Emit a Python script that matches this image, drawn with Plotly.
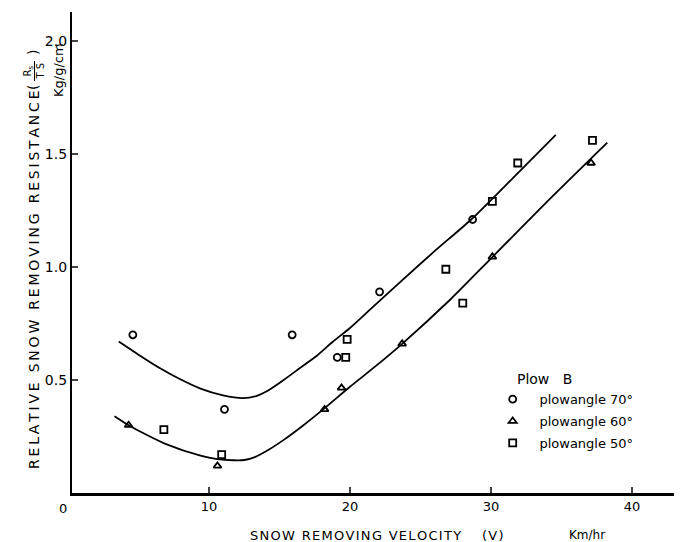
import plotly.graph_objects as go

# ---- data ----
x_ticks = [10, 20, 30, 40]
y_ticks = [0.5, 1.0, 1.5, 2.0]
y_tick_labels = ["0.5", "1.0", "1.5", "2.0"]

# plowangle 70 deg (circles)
a70_v = [4.6, 11.1, 15.9, 19.1, 22.1, 28.7]
a70_r = [0.70, 0.37, 0.70, 0.60, 0.89, 1.21]
# plowangle 60 deg (triangles)
a60_v = [4.3, 10.6, 18.2, 19.4, 23.7, 30.1, 37.1]
a60_r = [0.30, 0.12, 0.37, 0.465, 0.66, 1.045, 1.46]
# plowangle 50 deg (squares)
a50_v = [6.8, 10.9, 19.8, 19.7, 26.8, 28.0, 30.1, 31.9, 37.2]
a50_r = [0.28, 0.17, 0.68, 0.60, 0.99, 0.84, 1.29, 1.46, 1.56]

# fitted curves
upper_v = [3.6, 5.0, 6.5, 8.0, 9.4, 11.0, 12.4, 13.4, 14.1, 15.3, 16.5, 17.6, 18.8, 20.0, 21.4, 23.5, 26.0, 28.6, 31.5, 34.6]
upper_r = [0.67, 0.612, 0.553, 0.502, 0.462, 0.432, 0.42, 0.43, 0.45, 0.50, 0.555, 0.605, 0.67, 0.73, 0.81, 0.93, 1.07, 1.21, 1.39, 1.584]
lower_v = [3.3, 4.3, 5.5, 7.0, 9.4, 10.6, 11.7, 12.5, 13.3, 14.2, 15.3, 16.7, 18.1, 20.0, 21.8, 23.7, 27.1, 30.1, 34.0, 38.25]
lower_r = [0.34, 0.30, 0.26, 0.215, 0.165, 0.15, 0.145, 0.146, 0.16, 0.19, 0.235, 0.30, 0.37, 0.47, 0.56, 0.66, 0.855, 1.044, 1.29, 1.55]

FONT = "DejaVu Sans"
OFF = 8                      # page body margin
W, H = 682 - OFF, 542 - OFF
L, R, T, B = 72 - OFF, 682 - OFF, 12 - OFF, 493 - OFF


def xp(px):
    return (px - OFF - L) / (R - L)


def yp(py):
    return (B - (py - OFF)) / (B - T)


fig = go.Figure()
for cx, cy in [(upper_v, upper_r), (lower_v, lower_r)]:
    fig.add_trace(go.Scatter(x=cx, y=cy, mode="lines",
                             line=dict(color="black", width=1.8, shape="spline", smoothing=0.7),
                             showlegend=False, hoverinfo="skip"))

series = [
    (a70_v, a70_r, "circle-open", "plowangle 70°", "g1", 7),
    (a60_v, a60_r, "triangle-up-open", "plowangle 60°", "g2", 7),
    (a50_v, a50_r, "square-open", "plowangle 50°", "g3", 7),
]
for sx, sy, sym, name, grp, sz in series:
    fig.add_trace(go.Scatter(x=sx, y=sy, mode="markers", name="\u00a0\u2009" + name, legendgroup=grp,
                             marker=dict(symbol=sym, size=sz, color="black",
                                         line=dict(color="black", width=1.8))))

sp = "\u2009"
ytitle = sp.join(list("RELATIVE SNOW REMOVING RESISTANCE"))
xtitle = "\u200a".join(list("SNOW REMOVING VELOCITY"))

ann = [
    dict(x=xp(34), y=yp(280), text=ytitle, textangle=-90, font=dict(size=14)),
    dict(x=xp(33), y=yp(88), text="(", textangle=-90, font=dict(size=14)),
    dict(x=xp(33), y=yp(53), text=")", textangle=-90, font=dict(size=14)),
    dict(x=xp(28.5), y=yp(71), text="R<sub>s</sub>", textangle=-90, font=dict(size=10)),
    dict(x=xp(40.5), y=yp(71), text="T S", textangle=-90, font=dict(size=10)),
    dict(x=xp(58), y=yp(70), text="Kg/g/cm", textangle=-90, font=dict(size=13)),
    dict(x=xp(63), y=yp(508), text="0", font=dict(size=13)),
    dict(x=xp(355), y=yp(535), text=xtitle, font=dict(size=13)),
    dict(x=xp(493), y=yp(535), text="(\u200aV\u200a)", font=dict(size=13)),
    dict(x=xp(587), y=yp(535), text="Km/hr", font=dict(size=12)),
]
for a in ann:
    a.update(xref="paper", yref="paper", showarrow=False, xanchor="center", yanchor="middle",
             borderpad=0)
    a["font"].update(family=FONT, color="black")

fig.add_shape(type="line", xref="paper", yref="paper",
              x0=xp(34.5), x1=xp(34.5), y0=yp(61), y1=yp(81), line=dict(color="black", width=1))

fig.update_layout(
    width=W, height=H,
    margin=dict(l=L, r=W - R, t=T, b=H - B),
    paper_bgcolor="white", plot_bgcolor="white",
    font=dict(family=FONT, color="black", size=13),
    annotations=ann,
    legend=dict(x=xp(492.7), y=yp(366), xanchor="left", yanchor="top",
                title=dict(text="\u00a0\u00a0\u00a0\u00a0\u00a0Plow\u00a0\u00a0\u00a0B", font=dict(size=14)),
                font=dict(size=13), tracegroupgap=2, bgcolor="rgba(0,0,0,0)"),
    xaxis=dict(range=[0.284, 43.55], tickvals=x_ticks, ticks="inside", ticklen=6, tickwidth=1.5,
               showline=True, linecolor="black", linewidth=2.5, showgrid=False, zeroline=False,
               tickfont=dict(size=13)),
    yaxis=dict(range=[0, 2.128], tickvals=y_ticks, ticktext=y_tick_labels, ticks="inside",
               ticklen=6, tickwidth=1.5, showline=True, linecolor="black", linewidth=2.2,
               showgrid=False, zeroline=False, tickfont=dict(size=14)),
)

fig.write_html("out.html")
